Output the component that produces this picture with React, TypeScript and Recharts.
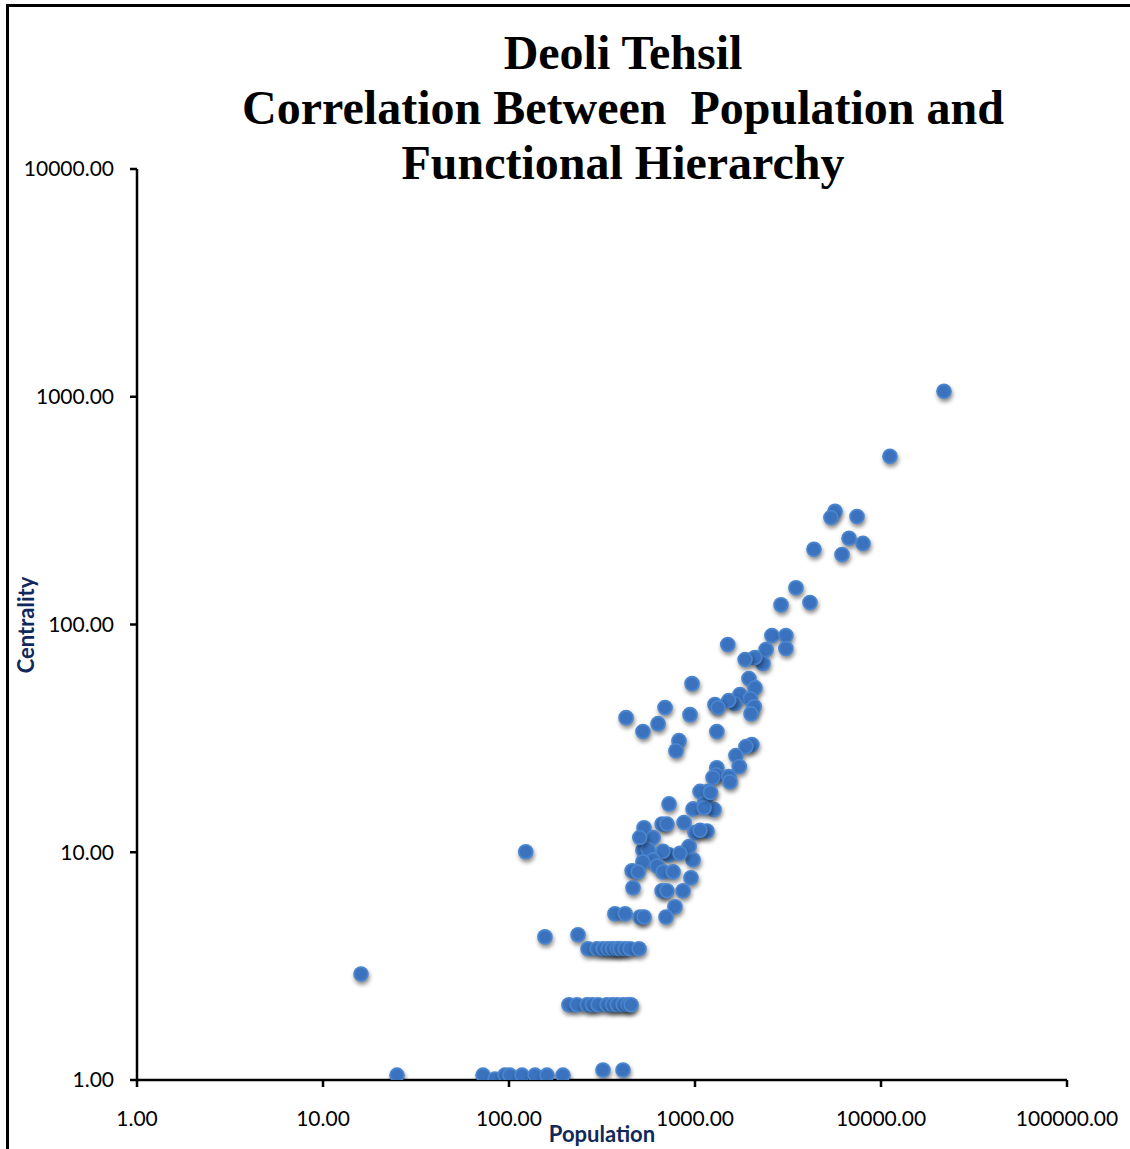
import { Scatter, ScatterChart, XAxis, YAxis } from "recharts";

// village population and its centrality score
const population = [
  21800, 11170, 5660, 5380, 7430, 6730, 8000, 6170, 4360, 3490, 2900, 4150,
  2590, 3080, 3080, 2410, 2320, 2100, 1860, 1500, 1950, 2100, 1745, 1980,
  1640, 1520, 2080, 2000, 1280, 1330, 1310, 2020, 1880, 1660, 1730, 1310,
  1300, 1250, 1520, 1540, 1175, 1065, 1130, 1265, 976, 1120, 1210, 964,
  940, 820, 790, 690, 633, 525, 426, 725,
  532, 665, 706, 873, 1000, 1160, 929, 595, 976, 525, 559, 725, 673, 595,
  525, 459, 494, 625, 673, 762, 951, 464, 665, 706, 862, 780, 698, 371,
  421, 506, 532, 830, 505, 1065,
  156, 235,
  266, 297, 320, 341, 360, 381, 395, 420, 447, 500,
  210, 232, 263, 280, 301, 336, 360, 381, 410, 436, 453,
  72.5, 84, 95, 101, 117.5, 138, 160, 195, 320, 410, 25,
  16, 123,
];

const centrality = [
  1057, 548, 314, 295, 298, 239, 227, 203, 214, 145, 122, 125,
  89.5, 89.5, 78.5, 77.6, 67.4, 71.6, 70.2, 81.7, 57.9, 52.8, 49.3, 47.3,
  45, 46.4, 43.6, 40.6, 44.5, 43.2, 33.9, 29.7, 29.1, 26.6, 23.8, 23.5,
  21.9, 21.3, 21.5, 20.4, 18.5, 18.5, 16.5, 15.4, 15.5, 15.7, 18.3, 55,
  40.2, 30.9, 27.9, 43.2, 36.7, 33.9, 39, 16.3,
  12.8, 13.3, 13.3, 13.5, 12.2, 12.4, 10.6, 11.6, 9.27, 10.2, 10.3, 9.75, 10.1, 9.27,
  9.09, 8.29, 8.2, 8.72, 8.2, 8.2, 7.73, 6.98, 6.77, 6.77, 6.77, 5.76, 5.2, 5.37,
  5.37, 5.2, 5.2, 9.9, 11.6, 12.5,
  4.25, 4.34,
  3.77, 3.77, 3.77, 3.77, 3.77, 3.77, 3.77, 3.77, 3.77, 3.77,
  2.14, 2.14, 2.14, 2.14, 2.14, 2.14, 2.14, 2.14, 2.14, 2.14, 2.14,
  1.05, 1.01, 1.05, 1.05, 1.05, 1.05, 1.05, 1.05, 1.106, 1.106, 1.05,
  2.92, 10.05,
];

const xTicks = [1, 10, 100, 1000, 10000, 100000];
const yTicks = [1, 10, 100, 1000, 10000];
const titleLines = ["Deoli Tehsil", "Correlation Between  Population and", "Functional Hierarchy"];

const points = population.map((p, i) => ({ population: p, centrality: centrality[i] }));

const fmt = (v: number) => v.toFixed(2);
const sans = "Lato, 'Open Sans', sans-serif";
const tickStyle = { fontFamily: sans, fontSize: 21, fill: "#000" };
const axisTitle = { fontFamily: sans, fontWeight: "bold" as const, fontSize: 22, fill: "#10295A" };

function Dot(props: any) {
  const { cx, cy } = props;
  if (cx == null || cy == null) return null;
  return (
    <g style={{ filter: "drop-shadow(1px 3px 2px rgba(0,0,0,0.45))" }}>
      <circle cx={cx} cy={cy} r={7.8} fill="#4A85CF" />
      <circle cx={cx} cy={cy} r={6} fill="#3A72BE" />
    </g>
  );
}

export default function App() {
  return (
    <div
      style={{
        position: "absolute",
        left: 0,
        top: 0,
        width: 1130,
        height: 1149,
        overflow: "hidden",
        background: "#fff",
      }}
    >
      <div
        style={{
          position: "absolute",
          left: 6,
          top: 4,
          width: 1200,
          height: 1200,
          borderLeft: "3px solid #000",
          borderTop: "3px solid #000",
        }}
      />
      <div
        style={{
          position: "absolute",
          left: 0,
          top: 25,
          width: 1246,
          textAlign: "center",
          fontFamily: "'Liberation Serif', 'Times New Roman', serif",
          fontWeight: "bold",
          fontSize: 48,
          lineHeight: "55px",
          color: "#000",
        }}
      >
        {titleLines.map((t) => (
          <div key={t} style={{ whiteSpace: "pre" }}>{t}</div>
        ))}
      </div>
      <ScatterChart
        width={1130}
        height={1149}
        margin={{ top: 169, right: 63, bottom: 29, left: 17 }}
        style={{ position: "absolute", left: 0, top: 0 }}
      >
        <XAxis
          dataKey="population"
          type="number"
          scale="log"
          domain={[1, 100000]}
          ticks={xTicks}
          allowDataOverflow
          tickFormatter={fmt}
          tick={tickStyle}
          tickSize={7}
          tickMargin={24}
          height={40}
          axisLine={{ stroke: "#000", strokeWidth: 2.5 }}
          tickLine={{ stroke: "#000", strokeWidth: 2.5 }}
        />
        <YAxis
          dataKey="centrality"
          type="number"
          scale="log"
          domain={[1, 10000]}
          ticks={yTicks}
          allowDataOverflow
          tickFormatter={fmt}
          tick={tickStyle}
          tickSize={7}
          tickMargin={16}
          width={120}
          axisLine={{ stroke: "#000", strokeWidth: 2.5 }}
          tickLine={{ stroke: "#000", strokeWidth: 2.5 }}
        />
        <Scatter data={points} shape={Dot} isAnimationActive={false} />
      </ScatterChart>
      <svg width={1130} height={1149} style={{ position: "absolute", left: 0, top: 0, pointerEvents: "none" }}>
        <text x={602} y={1142} textAnchor="middle" style={axisTitle}>
          Population
        </text>
        <text x={34} y={625} textAnchor="middle" transform="rotate(-90 34 625)" style={axisTitle}>
          Centrality
        </text>
      </svg>
    </div>
  );
}
